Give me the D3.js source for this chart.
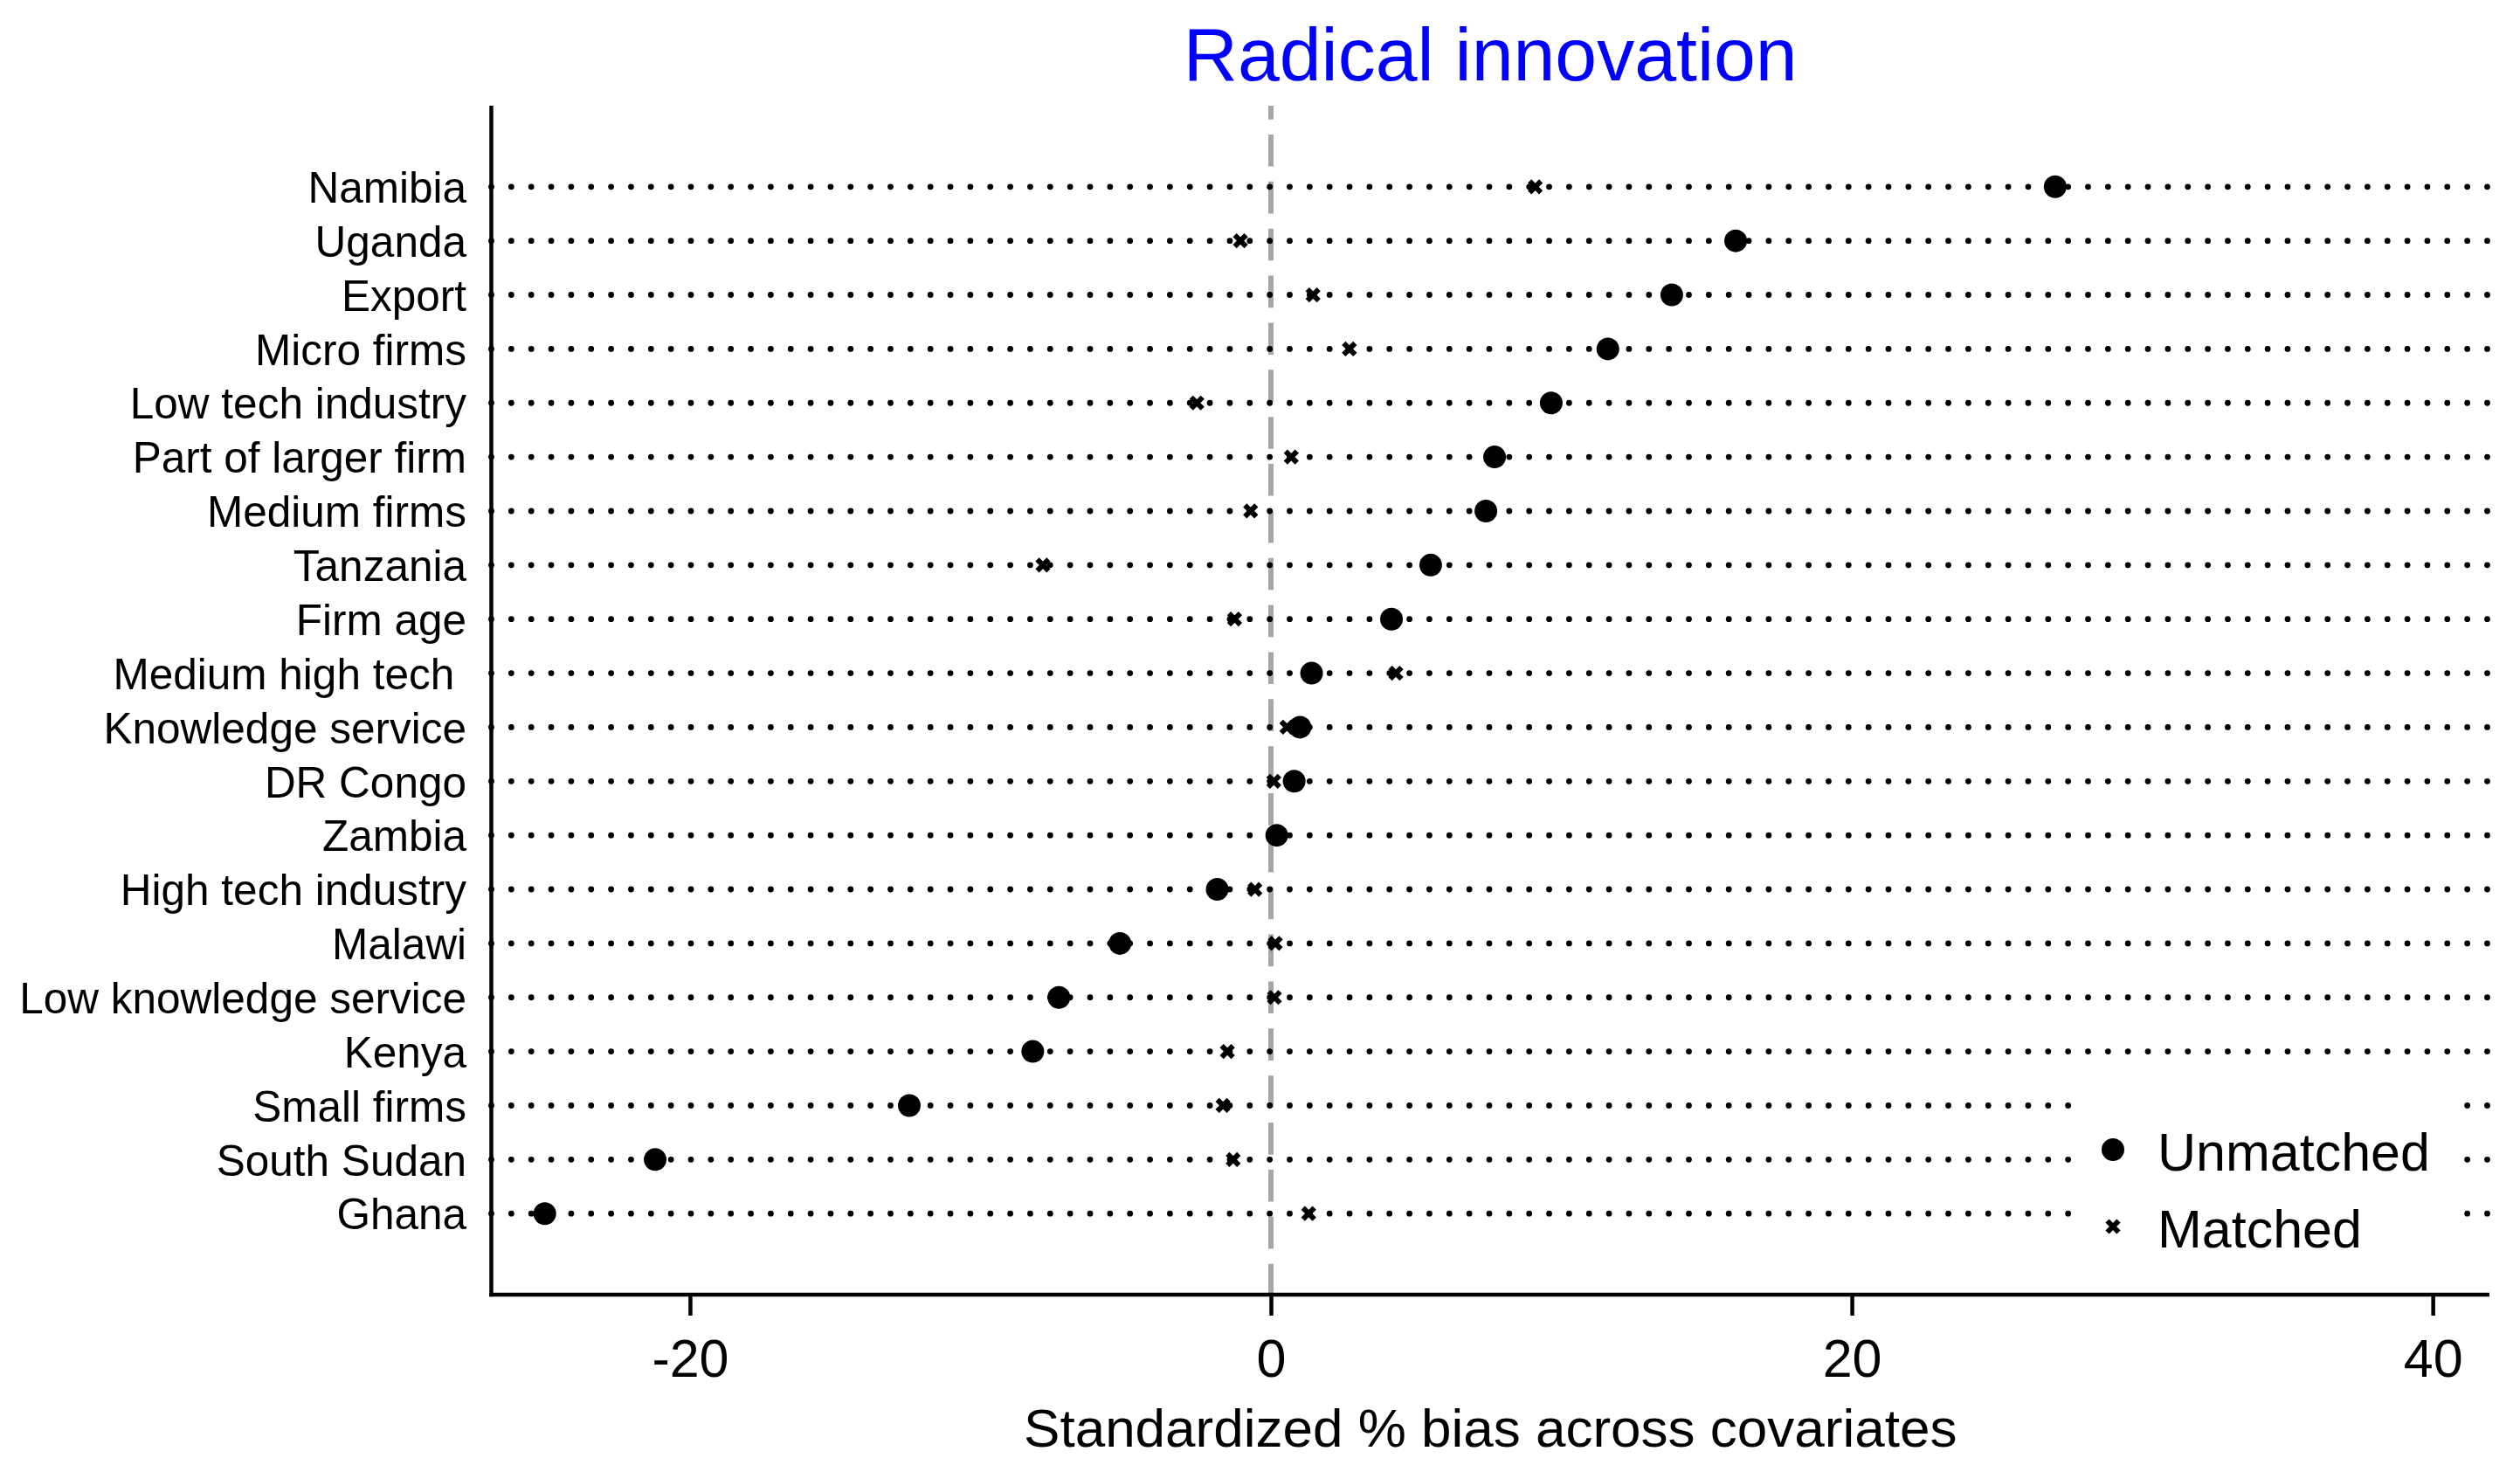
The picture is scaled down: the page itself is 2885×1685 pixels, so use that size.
<!DOCTYPE html>
<html>
<head>
<meta charset="utf-8">
<script src="https://cdn.jsdelivr.net/npm/d3@7"></script>
<style>
  body { margin: 0; background: #fff; }
  svg text { font-family: "Liberation Sans", Arial, sans-serif; }
</style>
</head>
<body>
<svg id="chart" width="2885" height="1685"></svg>
<script>
// covariates, top to bottom
var covariates = ["Namibia", "Uganda", "Export", "Micro firms", "Low tech industry",
  "Part of larger firm", "Medium firms", "Tanzania", "Firm age", "Medium high tech ",
  "Knowledge service", "DR Congo", "Zambia", "High tech industry", "Malawi",
  "Low knowledge service", "Kenya", "Small firms", "South Sudan", "Ghana"];

// standardized % bias, before matching
var unmatched = [27.0, 16.0, 13.8, 11.6, 9.65, 7.7, 7.4, 5.5, 4.15, 1.4,
  1.0, 0.8, 0.2, -1.85, -5.2, -7.3, -8.2, -12.45, -21.2, -25.0];

// standardized % bias, after matching
var matched = [9.1, -1.05, 1.45, 2.7, -2.55, 0.7, -0.7, -7.85, -1.25, 4.3,
  0.55, 0.1, 0.2, -0.55, 0.15, 0.12, -1.5, -1.65, -1.3, 1.3];

var xTicks = [-20, 0, 20, 40];
var seriesNames = ["Unmatched", "Matched"];

function drawChart() {
  var svg = d3.select("svg#chart");
  var plotLeft = 562.5, plotRight = 2850, plotTop = 121, plotBottom = 1482;

  var x = d3.scaleLinear().domain([-26.84, 41.95]).range([plotLeft, plotRight]);
  var y = d3.scalePoint().domain(covariates).range([plotTop, plotBottom]).padding(1.5);

  var xMarker = "M-6.5,-6.5L6.5,6.5M-6.5,6.5L6.5,-6.5";

  // title
  svg.append("text")
     .text("Radical innovation")
     .attr("x", (plotLeft + plotRight) / 2)
     .attr("y", 92)
     .attr("text-anchor", "middle")
     .style("font-size", "86px")
     .style("fill", "#0000ff");

  // reference line at zero
  svg.append("line")
     .attr("x1", x(0)).attr("x2", x(0))
     .attr("y1", plotTop).attr("y2", plotBottom)
     .style("stroke", "#a6a6a6")
     .style("stroke-width", 6)
     .style("stroke-dasharray", "36.6,17.26")
     .style("stroke-dashoffset", 20.86);

  // dotted guide per covariate
  svg.append("g").selectAll("line")
     .data(covariates)
     .enter().append("line")
     .attr("x1", plotLeft).attr("x2", plotRight)
     .attr("y1", function(d) { return y(d); })
     .attr("y2", function(d) { return y(d); })
     .attr("stroke-linecap", "round")
     .style("stroke", "black")
     .style("stroke-width", 6.8)
     .style("stroke-dasharray", "0,22.85");

  // legend box sits inside the plot and hides the guides
  var legX = 2419, legY = 1316, legGap = 88;
  svg.append("rect")
     .attr("x", 2378).attr("y", 1234)
     .attr("width", 437).attr("height", 216)
     .style("fill", "white");

  // matched first so unmatched circles sit on top
  svg.append("g").selectAll("path")
     .data(matched)
     .enter().append("path")
     .attr("d", xMarker)
     .attr("transform", function(d, i) { return "translate(" + x(d) + "," + y(covariates[i]) + ")"; })
     .style("fill", "none")
     .style("stroke", "black")
     .style("stroke-width", 6);

  svg.append("g").selectAll("circle")
     .data(unmatched)
     .enter().append("circle")
     .attr("cx", function(d) { return x(d); })
     .attr("cy", function(d, i) { return y(covariates[i]); })
     .attr("r", 13)
     .style("fill", "black");

  // axes
  var xAxis = svg.append("g")
     .attr("transform", "translate(0," + plotBottom + ")")
     .call(d3.axisBottom(x).tickValues(xTicks)
       .tickFormat(function(d) { return String(d); })
       .tickSize(24).tickSizeOuter(0).tickPadding(26.7));
  xAxis.select(".domain").attr("d", "M" + (plotLeft - 2.25) + ",0H" + plotRight);
  xAxis.selectAll("line, path").style("stroke", "black").style("stroke-width", 4.5);
  xAxis.selectAll("text")
     .style("font-family", "'Liberation Sans', Arial, sans-serif")
     .style("font-size", "61px")
     .style("fill", "black");

  var yAxis = svg.append("g")
     .attr("transform", "translate(" + plotLeft + ",0)")
     .call(d3.axisLeft(y).tickSize(0).tickSizeOuter(0).tickPadding(28.5));
  yAxis.select(".domain").attr("d", "M0," + plotTop + "V" + (plotBottom + 2.25));
  yAxis.selectAll("path").style("stroke", "black").style("stroke-width", 4.5);
  yAxis.selectAll("text")
     .attr("dy", "0.358em")
     .attr("xml:space", "preserve")
     .style("white-space", "pre")
     .style("font-family", "'Liberation Sans', Arial, sans-serif")
     .style("font-size", "49.5px")
     .style("fill", "black");

  // axis title
  svg.append("text")
     .text("Standardized % bias across covariates")
     .attr("x", (plotLeft + plotRight) / 2)
     .attr("y", 1656)
     .attr("text-anchor", "middle")
     .style("font-size", "62px")
     .style("fill", "black");

  // legend entries
  svg.append("circle")
     .attr("cx", legX).attr("cy", legY)
     .attr("r", 13)
     .style("fill", "black");
  svg.append("path")
     .attr("d", xMarker)
     .attr("transform", "translate(" + legX + "," + (legY + legGap) + ")")
     .style("fill", "none")
     .style("stroke", "black")
     .style("stroke-width", 6);

  svg.selectAll("text.legend")
     .data(seriesNames)
     .enter().append("text")
     .attr("class", "legend")
     .text(function(d) { return d; })
     .attr("x", 2470)
     .attr("y", function(d, i) { return legY + 24 + i * legGap; })
     .style("font-size", "61px")
     .style("fill", "black");
}

drawChart();
</script>
</body>
</html>
